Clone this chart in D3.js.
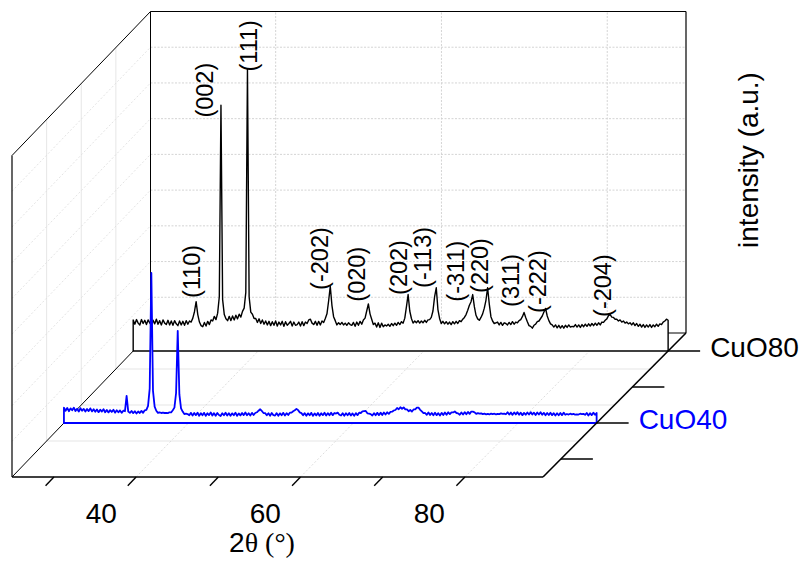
<!DOCTYPE html>
<html><head><meta charset="utf-8">
<script src="https://cdn.jsdelivr.net/npm/d3@7"></script>
<style>body{margin:0;background:#fff}svg{display:block}</style>
</head><body><svg id="c" width="802" height="561"></svg>
<script>
// ---------------- data ----------------
const thetaStart = 24.9, thetaStep = 0.2;   // 2θ sampling of both patterns
const cuo80 = [
435,375,440,390,365,440,385,430,370,435,395,360,430,380,445,375,425,365,435,390,
370,430,365,420,360,425,380,355,420,365,415,360,425,375,420,405,460,550,690,510,
405,355,340,400,350,415,370,435,420,485,440,530,760,3440,720,510,450,425,485,425,
490,435,500,450,515,475,555,600,820,3940,760,545,515,455,455,400,450,385,435,375,
420,365,415,355,410,360,420,350,405,365,415,345,410,360,385,415,350,405,360,370,
405,350,410,355,405,385,435,445,390,370,415,360,415,365,420,400,455,520,700,905,
640,480,425,365,395,370,400,365,390,360,395,370,360,400,345,405,360,415,375,435,
460,560,660,520,445,370,390,335,395,330,390,340,365,350,375,345,385,355,390,360,
400,370,410,390,460,620,790,560,455,390,420,395,425,390,420,395,430,400,435,440,
470,560,760,885,580,455,385,415,380,410,375,405,370,410,380,415,385,425,410,445,
470,510,570,640,690,790,620,500,450,430,470,520,600,710,885,660,480,420,385,395,
405,365,400,360,395,385,365,400,370,410,375,405,395,425,440,480,540,470,410,355,
345,320,360,375,410,420,455,490,545,595,490,425,380,365,335,365,325,360,320,355,
320,360,330,365,335,345,340,370,335,365,330,370,340,375,345,380,350,385,355,390,
360,395,365,405,400,430,450,495,510,475,470,445,445,420,435,405,420,390,405,380,
395,365,395,355,385,345,375,335,370,330,365,335,370,330,365,340,375,345,380,370,
405,420,445,430];
const cuo40 = [
215,172,210,165,205,178,215,168,200,160,208,172,198,160,195,166,205,162,192,158,
188,152,186,160,192,150,183,148,180,155,186,145,178,150,176,142,172,165,380,160,
142,168,138,165,132,162,140,170,142,178,185,240,480,2100,450,230,172,142,150,140,
145,140,142,138,150,148,178,215,420,1290,400,205,160,125,130,125,108,142,105,140,
110,145,102,138,108,142,100,136,110,148,105,138,102,140,112,98,136,108,144,105,
138,102,135,108,145,100,134,106,140,110,148,108,136,105,142,112,140,150,172,192,
168,140,138,108,136,102,140,110,105,138,100,135,108,142,105,138,112,145,145,165,
178,198,180,148,138,108,138,102,135,108,142,100,134,106,140,102,136,110,144,105,
138,108,145,110,140,132,145,115,105,138,102,136,108,140,105,134,100,138,110,145,
140,162,165,168,135,130,125,105,138,108,142,110,145,112,148,118,150,128,155,158,
175,182,210,192,220,200,218,190,190,165,182,160,190,190,215,215,185,162,138,140,
115,148,112,140,108,145,110,138,105,142,112,148,115,150,125,150,148,162,140,135,
115,148,118,152,122,155,128,160,158,150,128,138,130,135,125,130,122,128,120,132,
125,130,120,128,124,135,128,132,122,150,118,146,114,148,120,152,116,145,110,142,
115,148,118,152,120,145,112,148,118,150,115,142,108,140,112,145,110,138,105,136,
108,140,110,145,115,126,118,130,122,128,116,122,118,130,124,128,115,140,105,138,
110,145,115,140];
const seriesNames  = ["CuO80", "CuO40"];
const seriesDepth  = [4, 2];
const seriesColors = ["#000000", "#0000ff"];
const depthTicks = [1, 2, 3, 4];
const depthTickLabels = ["", "CuO40", "", "CuO80"];
const depthTickColors = ["#000", "#0000ff", "#000", "#000"];
const depthGrid = [1.5, 2.5, 3.5];
const xTicks = [30, 40, 50, 60, 70, 80];
const xTickLabels = [40, 60, 80];
const zGrid = [500, 1000, 1500, 2000, 2500, 3000, 3500, 4000];
const peakLabels = ["(110)","(002)","(111)","(-202)","(020)","(202)","(-113)","(-311)","(220)","(311)","(-222)","(-204)"];
const peakLabelTheta = [32.0, 33.5, 38.9, 47.4, 51.9, 57.0, 59.9, 63.8, 66.7, 70.5, 73.8, 81.6];
const peakLabelLevel = [743, 3267, 3912, 855, 691, 785, 883, 691, 813, 617, 533, 477];

// ---------------- scales / projection ----------------
const xS = d3.scaleLinear().domain([24.9, 89.5]).range([0, 1]);
const dS = d3.scaleLinear().domain([0.5, 4.5]).range([0, 1]);
const zS = d3.scaleLinear().domain([0, 4500]).range([0, 1]);
const FL = [12, 477], FR = [543, 477], BL = [150.5, 333], BR = [686, 333], H = 321.5;
function P(t, d, I) {
  const u = xS(t), v = dS(d), w = zS(I);
  const xl = FL[0] + (BL[0] - FL[0]) * v, xr = FR[0] + (BR[0] - FR[0]) * v;
  return [xl + (xr - xl) * u, FL[1] + (BL[1] - FL[1]) * v - H * w];
}
const X0 = xS.domain()[0], X1 = xS.domain()[1];
const D0 = dS.domain()[0], D1 = dS.domain()[1];
const Z1 = zS.domain()[1];

const svg = d3.select("#c");
const font = "'Liberation Sans', Arial, Helvetica, sans-serif";
function seg(g, a, b, stroke, w, dash) {
  g.append("line").attr("x1", a[0]).attr("y1", a[1]).attr("x2", b[0]).attr("y2", b[1])
    .attr("stroke", stroke).attr("stroke-width", w).attr("stroke-dasharray", dash || null);
}

// ---------------- grids ----------------
const grid = svg.append("g");
depthGrid.forEach(d => seg(grid, P(X0, d, 0), P(X0, d, Z1), "#e6e6e6", 1));
zGrid.forEach(z => seg(grid, P(X0, D0, z), P(X0, D1, z), "#dcdcdc", 0.8, "2,2"));
depthGrid.forEach(d => seg(grid, P(X0, d, 0), P(X1, d, 0), "#e6e6e6", 1.2));
xTickLabels.forEach(t => seg(grid, P(t, D0, 0), P(t, D1, 0), "#d4d4d4", 0.8, "2,2"));
zGrid.forEach(z => seg(grid, P(X0, D1, z), P(X1, D1, z), "#cfcfcf", 0.9, "2,1.5"));
xTickLabels.forEach(t => seg(grid, P(t, D1, 0), P(t, D1, Z1), "#cfcfcf", 0.9, "2,1.5"));

// back frame edges
const frame = svg.append("g");
seg(frame, P(X0, D1, 0), P(X0, D1, Z1), "#000", 1);
seg(frame, P(X0, D1, Z1), P(X1, D1, Z1), "#000", 1);
seg(frame, P(X1, D1, 0), P(X1, D1, Z1), "#000", 1.2);
seg(frame, P(X0, D1, 0), P(X1, D1, 0), "#000", 1);
seg(frame, P(X0, D0, Z1), P(X0, D1, Z1), "#000", 1);
seg(frame, P(X0, D0, 0), P(X0, D1, 0), "#000", 1);

// ---------------- series ribbons ----------------
const line = d3.line();
[cuo80, cuo40].forEach((arr, i) => {
  const d = seriesDepth[i];
  const pts = [P(X0, d, 0)];
  arr.forEach((v, k) => pts.push(P(thetaStart + k * thetaStep, d, v)));
  pts.push(P(thetaStart + (arr.length - 1) * thetaStep, d, 0));
  svg.append("path").attr("d", line(pts) + "Z")
    .attr("fill", "#fff").attr("stroke", seriesColors[i])
    .attr("stroke-width", i === 0 ? 1.4 : 1.8).attr("stroke-linejoin", "round");
});

// ---------------- front edges ----------------
const fr = svg.append("g");
seg(fr, P(X0, D0, 0), P(X0, D0, Z1), "#000", 1.2);
seg(fr, P(X0, D0, 0), P(X1, D0, 0), "#000", 1.6);
seg(fr, P(X1, D0, 0), P(X1, D1, 0), "#000", 1.6);

xTicks.forEach(t => seg(fr, P(t, D0, 0), P(t, D0 - 0.24, 0), "#000", 1.4));
xTickLabels.forEach(t => {
  const p = P(t, D0 - 1.0, 0);
  svg.append("text").attr("x", p[0]).attr("y", p[1]).attr("dy", "0.35em")
    .attr("text-anchor", "middle").attr("font-family", font).attr("font-size", 28)
    .text(t);
});
depthTicks.forEach((d, i) => {
  const p = P(X1, d, 0);
  seg(fr, p, [p[0] + 32, p[1]], "#000", 1.5);
  if (depthTickLabels[i]) {
    svg.append("text").attr("x", p[0] + 42).attr("y", p[1]).attr("dy", "0.2em")
      .attr("font-family", font).attr("font-size", 28).attr("fill", depthTickColors[i])
      .text(depthTickLabels[i]);
  }
});

peakLabels.forEach((lab, i) => {
  const p = P(peakLabelTheta[i], seriesDepth[0], peakLabelLevel[i]);
  svg.append("text").attr("transform", `translate(${p[0]},${p[1]}) rotate(-90)`)
    .attr("dy", "0.35em").attr("font-family", font).attr("font-size", 23.5)
    .text(lab);
});

const xt = svg.append("text").attr("x", 262).attr("y", 552).attr("text-anchor", "middle")
  .attr("font-size", 28).attr("font-family", font);
xt.append("tspan").text("2");
xt.append("tspan").attr("font-family", "'Liberation Serif', 'Times New Roman', serif").text("θ (°)");
svg.append("text").attr("transform", "translate(748,160) rotate(-90)")
  .attr("text-anchor", "middle").attr("dy", "0.35em")
  .attr("font-family", font).attr("font-size", 28).text("intensity (a.u.)");
</script></body></html>
